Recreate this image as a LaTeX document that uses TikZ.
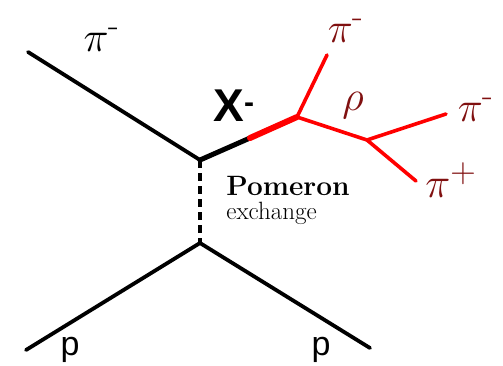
\documentclass[tikz,border=0pt]{standalone}
\usepackage{amsmath}
\usepackage{fontspec}
\newfontfamily\arialfont{Liberation Sans}
\usetikzlibrary{positioning}
\definecolor{pired}{RGB}{128,16,16}

\begin{document}
\begin{tikzpicture}[
    x=1pt, y=-1pt,
    line/.style={line width=3.8pt, line cap=round},
    decay/.style={line width=3.6pt, red, line cap=round},
    lbl/.style={inner sep=0pt, font=\Huge, scale=1.7},
    redlbl/.style={lbl, text=pired}
]
\useasboundingbox (0,0) rectangle (503,365);

% vertices
\coordinate (beam) at (28,52);
\coordinate (top) at (200,160);
\coordinate (mid) at (250,138);
\coordinate (rvtx) at (297,117);
\coordinate (pi1) at (327,55);
\coordinate (rho) at (367,140);
\coordinate (pi2) at (446,114);
\coordinate (pi3) at (416,181);
\coordinate (bot) at (200,243);
\coordinate (pin) at (26,350);
\coordinate (pout) at (370,348);

% lines
\draw[line] (beam) -- (top);
\draw[line, line width=5pt] (top) -- (mid);
\draw[decay, line width=6pt] (mid) -- (rvtx);
\draw[decay] (rvtx) -- (pi1);
\draw[decay] (rvtx) -- (rho);
\draw[decay] (rho) -- (pi2);
\draw[decay] (rho) -- (pi3);
\draw[line, line cap=butt, dash pattern=on 8pt off 5pt] (top) -- (bot);
\draw[line] (pin) -- (bot) -- (pout);

% labels
\node[lbl] (beamlbl) at (102,40) {$\pi^{\text{-}}$};
\node[inner sep=0pt, font=\arialfont\bfseries\fontsize{46}{50}\selectfont] (xlbl) at (234,106) {X\textsuperscript{\fontsize{30}{30}\selectfont-}};
\node[redlbl] (pi1lbl) at (346,31) {$\pi^{\text{-}}$};
\node[redlbl] (rholbl) at (353,106) {$\rho$};
\node[redlbl] (pi2lbl) at (476,110) {$\pi^{\text{-}}$};
\node[redlbl] (pi3lbl) at (451,180) {$\pi^{+}$};
\node[inner sep=0pt, font=\bfseries\fontsize{28}{30}\selectfont] (pom) at (288,186) {Pomeron};
\node[inner sep=0pt, font=\fontsize{25}{27}\selectfont, right=0pt of pom.south west, anchor=north west, yshift=-6pt] (exch) {exchange};
\node[inner sep=0pt, font=\arialfont\fontsize{34}{36}\selectfont] (pleft) at (70,350) {p};
\node[inner sep=0pt, font=\arialfont\fontsize{34}{36}\selectfont] (pright) at (321,350) {p};
\end{tikzpicture}
\end{document}
